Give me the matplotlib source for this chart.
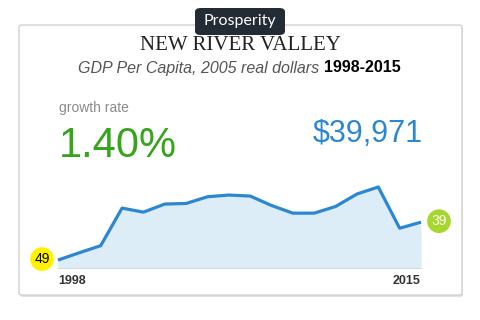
import matplotlib
matplotlib.use('Agg')
import matplotlib.pyplot as plt
from matplotlib.patches import FancyBboxPatch

# valores aproximados
anos = list(range(1998, 2016))
pib_per_capita = [31550, 33180, 34750, 43100, 42200, 44000, 44130, 45620, 46000,
                  45780, 43680, 41980, 41980, 43460, 46230, 47790, 38630, 39971]
rank_inicio = '49'
rank_fim = '39'
taxa_crescimento = '1.40%'
valor_final = '$39,971'

azul = '#2b87d1'
verde = '#36a41c'

fig = plt.figure(figsize=(4.8, 3.2), dpi=100)
W, H = 480, 320

def fx(px):
    return px / W

def fy(py):
    return 1 - py / H

# cartão com sombra
sombra = FancyBboxPatch((fx(20), fy(297)), fx(443), (297 - 26) / H,
                        boxstyle='round,pad=0,rounding_size=0.006',
                        transform=fig.transFigure, facecolor='#e2e2e2',
                        edgecolor='none', zorder=0)
card = FancyBboxPatch((fx(19), fy(295)), fx(443), (295 - 25) / H,
                      boxstyle='round,pad=0,rounding_size=0.006',
                      transform=fig.transFigure, facecolor='white',
                      edgecolor='#d2d2d2', linewidth=1.0, zorder=0.5)
fig.patches.extend([sombra, card])

# aba "Prosperity"
aba = FancyBboxPatch((fx(195), fy(35)), fx(90), 27 / H,
                     boxstyle='round,pad=0,rounding_size=0.012',
                     transform=fig.transFigure, facecolor='#232b35',
                     edgecolor='none', zorder=2)
fig.patches.append(aba)
fig.text(fx(240), fy(21), 'Prosperity', color='white', fontsize=11.5,
         family='Lato', ha='center', va='center', zorder=3)

fig.text(fx(240), fy(46), 'NEW RIVER VALLEY', family='Liberation Serif',
         fontsize=15, ha='center', va='center', color='#222222')
t1 = fig.text(fx(78), fy(68), 'GDP Per Capita, 2005 real dollars ',
              family='Liberation Sans', style='italic', fontsize=11.5,
              ha='left', va='center', color='#555555')
fig.canvas.draw()
bb = t1.get_window_extent()
fig.text(bb.x1 / W, fy(68), '1998-2015', family='Liberation Sans',
         weight='bold', fontsize=11.5, ha='left', va='center', color='black')

fig.text(fx(59), fy(108), 'growth rate', family='Liberation Sans',
         fontsize=10, color='#8a8a8a', ha='left', va='center')
fig.text(fx(59), fy(146), taxa_crescimento, family='Liberation Sans',
         fontsize=30, color=verde, ha='left', va='center')
fig.text(fx(423), fy(134), valor_final, family='Liberation Sans',
         fontsize=22, color=azul, ha='right', va='center')

# gráfico de área
ax = fig.add_axes([fx(58), fy(267.5), fx(421 - 58), (267.5 - 187) / H])
ax.set_zorder(5)
ax.fill_between(anos, pib_per_capita, 0, color='#dcedf8', linewidth=0)
ax.plot(anos, pib_per_capita, color=azul, linewidth=2.3,
        solid_joinstyle='round', solid_capstyle='butt', clip_on=False)
ax.set_xlim(anos[0], anos[-1])
ax.set_ylim(29900, max(pib_per_capita))
for lado in ['top', 'left', 'right']:
    ax.spines[lado].set_visible(False)
ax.spines['bottom'].set_color('#d5dde3')
ax.spines['bottom'].set_linewidth(0.8)
ax.set_xticks([])
ax.set_yticks([])
ax.patch.set_alpha(0)

ax.annotate(str(anos[0]), (anos[0], 0), xycoords=('data', 'axes fraction'),
            xytext=(0, -13), textcoords='offset pixels', ha='left',
            va='center', fontsize=9, weight='bold', color='#333333',
            family='Liberation Sans')
ax.annotate(str(anos[-1]), (anos[-1], 0), xycoords=('data', 'axes fraction'),
            xytext=(0, -13), textcoords='offset pixels', ha='right',
            va='center', fontsize=9, weight='bold', color='#333333',
            family='Liberation Sans')

ax.annotate(rank_inicio, (anos[0], pib_per_capita[0]), xytext=(-16, 1),
            textcoords='offset pixels', ha='center', va='center',
            fontsize=10, color='black', family='Liberation Sans',
            annotation_clip=False,
            bbox=dict(boxstyle='circle,pad=0.3', fc='#fff200', ec='none'))
ax.annotate(rank_fim, (anos[-1], pib_per_capita[-1]), xytext=(18, 1),
            textcoords='offset pixels', ha='center', va='center',
            fontsize=10, color='white', family='Liberation Sans',
            annotation_clip=False,
            bbox=dict(boxstyle='circle,pad=0.3', fc='#a6d72c', ec='none'))

fig.savefig('out.png', dpi=100)
